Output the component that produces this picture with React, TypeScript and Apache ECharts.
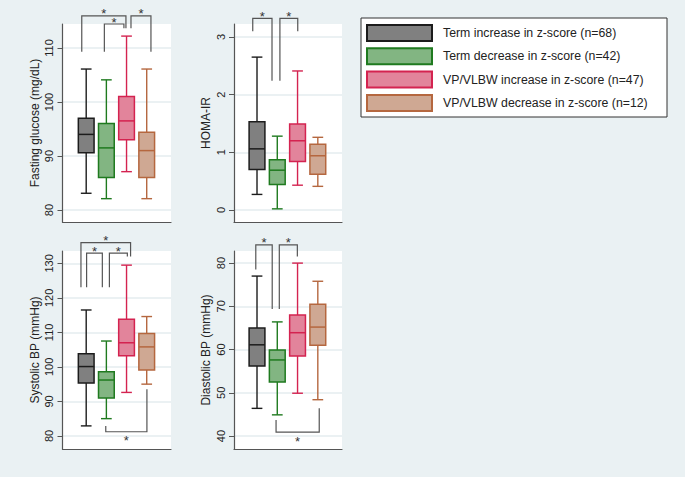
import React, { useEffect, useRef } from 'react';
import * as echarts from 'echarts';

// Group names (legend)
const groups = [
  'Term increase in z-score (n=68)',
  'Term decrease in z-score (n=42)',
  'VP/VLBW increase in z-score (n=47)',
  'VP/VLBW decrease in z-score (n=12)',
];

// Box values per group: [lower whisker, Q1, median, Q3, upper whisker]
const glucose = [
  [83.1, 90.6, 94.0, 97.0, 106.1],
  [82.1, 86.0, 91.5, 96.0, 104.1],
  [87.1, 93.0, 96.5, 101.0, 112.2],
  [82.1, 86.0, 91.0, 94.4, 106.1],
];
const homa = [
  [0.27, 0.7, 1.06, 1.53, 2.65],
  [0.02, 0.44, 0.69, 0.87, 1.28],
  [0.43, 0.84, 1.2, 1.49, 2.41],
  [0.41, 0.62, 0.94, 1.14, 1.26],
];
const sbp = [
  [82.9, 95.3, 100.1, 103.8, 116.5],
  [85.0, 91.0, 96.2, 98.6, 107.5],
  [92.6, 103.2, 107.0, 113.8, 129.5],
  [95.0, 99.1, 105.8, 109.7, 114.6],
];
const dbp = [
  [46.4, 56.2, 61.1, 65.0, 77.0],
  [44.9, 52.5, 57.6, 59.9, 66.4],
  [49.9, 58.5, 63.9, 68.0, 80.0],
  [48.4, 61.0, 65.2, 70.5, 75.8],
];

// Tick labels
const glucoseTicks = [80, 90, 100, 110];
const homaTicks = [0, 1, 2, 3];
const sbpTicks = [80, 90, 100, 110, 120, 130];
const dbpTicks = [40, 50, 60, 70, 80];

// Significance brackets: [from group, to group, bracket level, left end, right end, star side (1 above, -1 below)]
const glucoseBrackets = [
  [-0.22, 1.97, 115.93, 109.3, 113.65, 1],
  [0.9, 1.87, 114.44, 109.3, 113.65, 1],
  [2.22, 3.21, 115.93, 113.65, 109.3, 1],
];
const homaBrackets = [
  [-0.21, 0.74, 3.32, 3.1, 2.24, 1],
  [1.13, 2.01, 3.32, 2.24, 3.1, 1],
];
const sbpBrackets = [
  [-0.26, 2.2, 136.0, 123.1, 132.0, 1],
  [0.02, 0.8, 133.0, 123.1, 123.1, 1],
  [1.15, 2.04, 133.0, 123.1, 132.0, 1],
  [0.97, 3.01, 81.2, 82.9, 93.5, -1],
];
const dbpBrackets = [
  [-0.06, 0.75, 84.2, 78.5, 69.4, 1],
  [1.1, 1.99, 84.2, 69.4, 81.5, 1],
  [0.94, 3.07, 40.9, 43.7, 46.4, -1],
];

const FILL = ['#808080', '#82b582', '#e2849b', '#cfa893'];
const STROKE = ['#1c1c1c', '#1f7a1f', '#d42350', '#b5673f'];
const FONT = 'Liberation Sans, Arial, sans-serif';

export default function App() {
  const ref = useRef<HTMLDivElement>(null);

  useEffect(() => {
    const chart = echarts.init(ref.current!, null, { renderer: 'svg' });

    const panels = [
      { title: 'Fasting glucose (mg/dL)', values: glucose, brackets: glucoseBrackets, ticks: glucoseTicks,
        yMin: 77.78, yMax: 114.44, xMin: -1.175, xMax: 4.204, grid: { left: 62.5, top: 24, width: 108.5, height: 198 } },
      { title: 'HOMA-IR', values: homa, brackets: homaBrackets, ticks: homaTicks,
        yMin: -0.208, yMax: 3.224, xMin: -1.135, xMax: 4.193, grid: { left: 234, top: 24, width: 108, height: 198 } },
      { title: 'Systolic BP (mmHg)', values: sbp, brackets: sbpBrackets, ticks: sbpTicks,
        yMin: 76.2, yMax: 133.6, xMin: -1.175, xMax: 4.204, grid: { left: 62.5, top: 251, width: 108.5, height: 198 } },
      { title: 'Diastolic BP (mmHg)', values: dbp, brackets: dbpBrackets, ticks: dbpTicks,
        yMin: 37.0, yMax: 82.8, xMin: -1.135, xMax: 4.193, grid: { left: 234, top: 251, width: 108, height: 198 } },
    ];

    const axisColor = '#555';

    const boxRender = (params: any, api: any) => {
      const idx = api.value(0);
      const bot = api.coord([idx, api.value(1)]);
      const q1 = api.coord([idx, api.value(2)]);
      const med = api.coord([idx, api.value(3)]);
      const q3 = api.coord([idx, api.value(4)]);
      const top = api.coord([idx, api.value(5)]);
      const bw = api.size([0.78, 0])[0];
      const cw = bw * 0.68;
      const x = top[0];
      const stroke = STROKE[idx];
      const fill = FILL[idx];
      const ls = { stroke, lineWidth: 1.4, fill: null };
      return {
        type: 'group',
        children: [
          { type: 'line', shape: { x1: x, y1: top[1], x2: x, y2: q3[1] }, style: ls },
          { type: 'line', shape: { x1: x, y1: q1[1], x2: x, y2: bot[1] }, style: ls },
          { type: 'line', shape: { x1: x - cw / 2, y1: top[1], x2: x + cw / 2, y2: top[1] }, style: ls },
          { type: 'line', shape: { x1: x - cw / 2, y1: bot[1], x2: x + cw / 2, y2: bot[1] }, style: ls },
          { type: 'rect', shape: { x: x - bw / 2, y: q3[1], width: bw, height: q1[1] - q3[1] },
            style: { fill, stroke, lineWidth: 1.5 } },
          { type: 'line', shape: { x1: x - bw / 2, y1: med[1], x2: x + bw / 2, y2: med[1] },
            style: { stroke, lineWidth: 1.5 } },
        ],
      };
    };

    const bracketRender = (params: any, api: any) => {
      const a = api.coord([api.value(0), api.value(3)]);
      const b = api.coord([api.value(0), api.value(2)]);
      const c = api.coord([api.value(1), api.value(2)]);
      const d = api.coord([api.value(1), api.value(4)]);
      const dir = api.value(5);
      return {
        type: 'group',
        children: [
          { type: 'polyline', shape: { points: [a, b, c, d] }, style: { stroke: '#555', lineWidth: 1.2, fill: null } },
          { type: 'text', x: (b[0] + c[0]) / 2, y: b[1] + (dir > 0 ? -2 : 9),
            style: { text: '*', fontSize: 13, fill: '#333', align: 'center', verticalAlign: 'middle', fontFamily: FONT } },
        ],
      };
    };

    const series: any[] = [];
    panels.forEach((p, i) => {
      series.push({
        type: 'custom',
        xAxisIndex: i,
        yAxisIndex: i,
        clip: false,
        z: 3,
        silent: true,
        renderItem: boxRender,
        encode: { x: 0, y: [1, 2, 3, 4, 5] },
        data: p.values.map((v, k) => [k, ...v]),
      });
      series.push({
        type: 'custom',
        xAxisIndex: i,
        yAxisIndex: i,
        clip: false,
        z: 4,
        silent: true,
        renderItem: bracketRender,
        encode: { x: [0, 1], y: [2, 3, 4] },
        data: p.brackets,
      });
    });

    const legendTop = 18;
    const rowStep = 23.3;
    const legendChildren: any[] = [
      { type: 'rect', shape: { x: 361, y: legendTop, width: 306, height: 99 },
        style: { fill: '#fff', stroke: '#333', lineWidth: 1 } },
    ];
    groups.forEach((g, k) => {
      const cy = legendTop + 15 + k * rowStep;
      legendChildren.push({ type: 'rect', shape: { x: 367, y: cy - 8, width: 65, height: 16 },
        style: { fill: FILL[k], stroke: STROKE[k], lineWidth: 2 } });
      legendChildren.push({ type: 'text', x: 443, y: cy,
        style: { text: g, fontSize: 12.3, fill: '#222', fontFamily: FONT, verticalAlign: 'middle', align: 'left' } });
    });

    const option: any = {
      animation: false,
      backgroundColor: '#eaf1f3',
      textStyle: { fontFamily: FONT },
      grid: panels.map((p) => ({ ...p.grid, show: true, backgroundColor: '#ffffff', borderWidth: 0, containLabel: false })),
      xAxis: panels.map((p, i) => ({
        type: 'value', gridIndex: i, min: p.xMin, max: p.xMax,
        axisLine: { show: true, onZero: false, lineStyle: { color: axisColor, width: 1.2 } },
        axisTick: { show: false }, axisLabel: { show: false }, splitLine: { show: false },
      })),
      yAxis: panels.map((p, i) => ({
        type: 'value', gridIndex: i, min: p.yMin, max: p.yMax,
        name: p.title, nameLocation: 'middle', nameGap: 22,
        nameTextStyle: { fontSize: 12, color: '#222', fontFamily: FONT },
        axisLine: { show: true, onZero: false, lineStyle: { color: axisColor, width: 1.2 } },
        axisTick: { show: true, length: 5, customValues: p.ticks, lineStyle: { color: axisColor } },
        axisLabel: { customValues: p.ticks, rotate: 90, margin: 8, fontSize: 11, color: '#222', fontFamily: FONT },
        splitLine: { show: true, lineStyle: { color: '#e4ecef', width: 1.5 } },
      })),
      series,
      graphic: [{ type: 'group', children: legendChildren }],
    };

    chart.setOption(option);
    return () => chart.dispose();
  }, []);

  return <div ref={ref} style={{ position: 'absolute', left: 0, top: 0, width: 685, height: 477 }} />;
}
